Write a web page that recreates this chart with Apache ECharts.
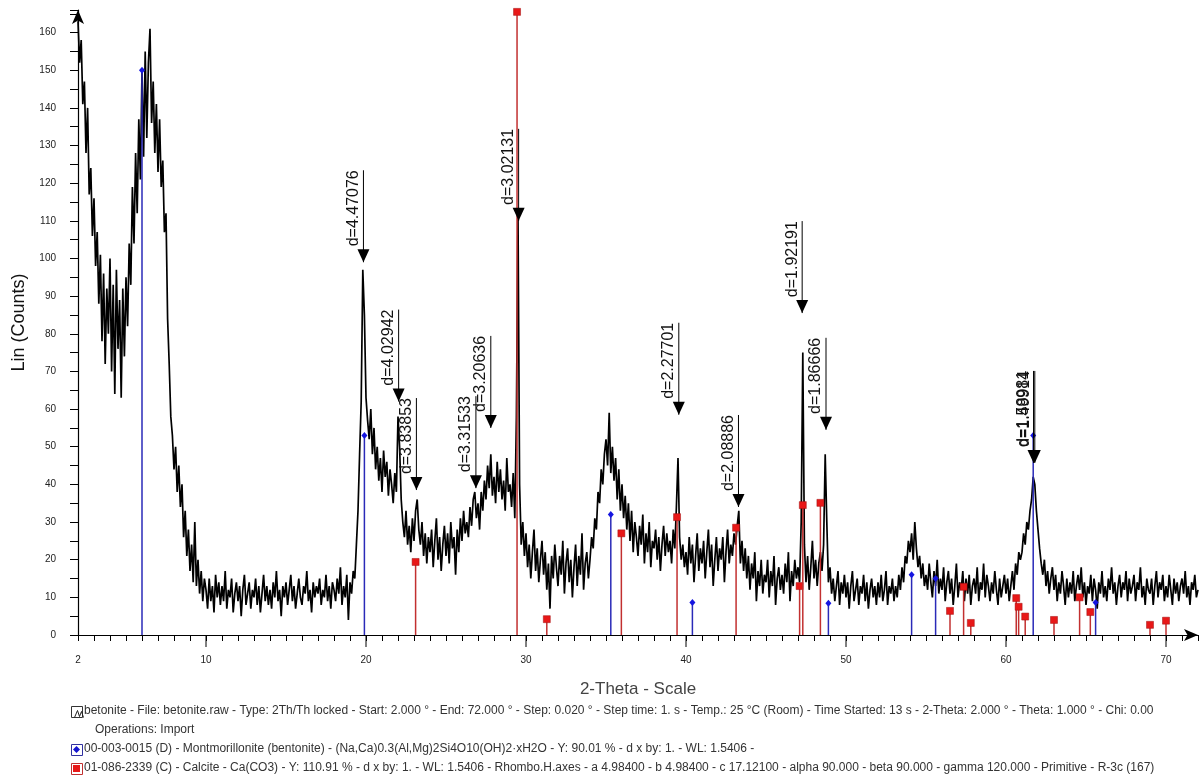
<!DOCTYPE html>
<html><head><meta charset="utf-8">
<script src="https://cdn.jsdelivr.net/npm/echarts@6/dist/echarts.min.js"></script>
<style>html,body{margin:0;padding:0;background:#fff}#c{width:1203px;height:775px}</style>
</head><body><div id="c"></div>
<script>
// Scan grid (from the file header: Start 2.000°, Step read at 0.1° resolution)
const START = 2.0, STEP = 0.1;
// Counts, 2.0° .. 72.0°
const counts = [
163,152,158,141,147,128,140,117,124,106,
116,98,107,88,101,78,96,72,92,80,
100,70,93,64,97,76,89,63,92,74,
95,82,104,93,119,104,128,112,137,121,
150,127,155,132,152,161,136,147,128,141,
123,137,119,126,107,112,84,72,58,53,
44,50,38,45,34,40,26,33,21,28,
17,24,14,30,13,20,11,17,9,15,
12,7,15,9,13,6,16,10,14,8,
13,9,17,7,12,10,15,6,11,14,
9,13,5,12,16,8,11,14,7,12,
10,15,8,13,6,11,16,9,13,8,
12,7,14,10,17,9,12,5,13,10,
14,8,12,16,9,13,7,11,15,10,
8,13,11,17,9,12,6,14,10,13,
11,15,8,12,10,16,9,13,7,14,
12,9,15,11,18,8,13,10,16,4,
14,11,17,15,24,33,48,62,97,85,
63,57,52,60,48,55,44,50,41,47,
38,49,42,46,37,44,40,35,43,38,
58,50,36,30,26,33,24,29,22,31,
25,33,36,28,24,30,21,27,19,26,
22,28,18,25,31,20,26,17,24,29,
21,27,19,30,23,26,16,28,22,31,
25,33,27,30,26,34,29,36,38,31,
35,28,38,33,41,36,45,39,48,37,
42,35,46,38,44,36,41,33,47,38,
40,34,43,31,58,112,40,24,30,21,
27,18,24,15,22,28,17,23,14,20,
25,16,22,12,19,7,21,15,24,18,
13,21,16,25,11,19,23,14,20,10,
18,24,13,21,16,27,12,19,22,15,
20,26,23,31,28,38,35,44,40,48,
52,45,59,43,50,41,47,36,44,33,
40,31,37,28,35,25,33,22,30,26,
21,29,24,32,19,27,22,30,18,25,
23,28,20,26,17,24,29,21,27,22,
25,19,28,23,34,47,26,20,24,18,
22,16,26,19,24,14,21,27,17,23,
19,25,15,22,28,18,24,13,20,26,
17,23,20,26,14,22,28,19,24,21,
27,24,29,33,19,25,17,23,15,21,
12,19,15,22,9,17,13,20,11,16,
14,20,10,17,13,21,8,15,18,12,
16,11,19,14,22,9,17,13,20,15,
18,14,30,75,24,14,21,12,18,25,
15,20,13,19,22,17,24,48,30,14,
18,11,15,9,13,17,8,14,11,16,
10,14,7,13,17,9,12,15,8,13,
11,16,9,14,7,12,15,10,13,8,
14,10,16,9,12,17,8,13,11,15,
9,13,10,16,12,18,14,21,19,25,
22,27,20,30,23,18,21,15,19,13,
16,12,19,14,10,17,13,20,11,15,
12,18,9,14,17,11,15,8,13,19,
10,14,12,17,9,15,11,16,8,13,
15,11,18,9,14,12,19,10,16,13,
9,14,11,17,12,8,15,10,13,16,
11,15,9,13,17,12,19,16,22,20,
22,27,24,30,28,33,36,42,40,33,
28,23,19,16,20,13,17,11,15,18,
12,16,9,14,11,17,13,8,15,10,
14,11,17,9,13,16,12,18,10,14,
8,13,11,16,9,15,12,7,14,11,
17,10,13,9,15,12,18,11,14,8,
13,16,10,14,12,17,9,15,11,13,
16,9,14,12,18,10,13,8,15,12,
11,15,8,13,17,10,14,12,16,9,
13,10,16,12,8,15,11,14,9,13,
15,11,17,10,13,8,14,12,16,10,
12
];
const xLabelValues = [2,10,20,30,40,50,60,70];
const majorTicks = [10,20,30,40,50,60,70];

// Reference patterns
const montTheta  = [6.0, 19.9, 35.3, 40.4, 48.9, 54.1, 55.6, 61.7, 65.6];
const montHeight = [150, 53, 32, 8.6, 8.4, 16, 15, 53, 8.6];
const calciteTheta  = [23.1, 29.44, 31.3, 35.96, 39.44, 43.13, 47.1, 47.3, 48.4, 56.5, 57.35, 57.8, 60.64, 60.79, 61.2, 63.0, 64.6, 65.27, 69.0, 70.0];
const calciteHeight = [19.4, 165.5, 4.2, 27, 31.3, 28.5, 13, 34.5, 35.1, 6.4, 12.8, 3.2, 9.8, 7.5, 4.9, 4.0, 10, 6.1, 2.7, 3.8];

// d-spacing peak markers
const peakLabels = ['d=4.47076','d=4.02942','d=3.83853','d=3.31533','d=3.20636','d=3.02131','d=2.27701','d=2.08886','d=1.92191','d=1.86666','d=1.58981','d=1.49914'];
const peakTheta  = [19.84, 22.04, 23.15, 26.87, 27.80, 29.54, 39.55, 43.28, 47.26, 48.75, 61.72, 61.80];
const peakTip    = [99, 62, 38.5, 39, 55, 110, 58.5, 34, 85.5, 54.5, 45.7, 45.7];

const legendLines = [
  'betonite - File: betonite.raw - Type: 2Th/Th locked - Start: 2.000 \u00b0 - End: 72.000 \u00b0 - Step: 0.020 \u00b0 - Step time: 1. s - Temp.: 25 \u00b0C (Room) - Time Started: 13 s - 2-Theta: 2.000 \u00b0 - Theta: 1.000 \u00b0 - Chi: 0.00',
  'Operations: Import',
  '00-003-0015 (D) - Montmorillonite (bentonite) - (Na,Ca)0.3(Al,Mg)2Si4O10(OH)2\u00b7xH2O - Y: 90.01 % - d x by: 1. - WL: 1.5406 -',
  '01-086-2339 (C) - Calcite - Ca(CO3) - Y: 110.91 % - d x by: 1. - WL: 1.5406 - Rhombo.H.axes - a 4.98400 - b 4.98400 - c 17.12100 - alpha 90.000 - beta 90.000 - gamma 120.000 - Primitive - R-3c (167)'
];

const FONT = '"Liberation Sans", Arial, sans-serif';
const scan = counts.map((v, i) => [+(START + i * STEP).toFixed(2), v]);

function stickRender(color, markerColor, marker) {
  return function (params, api) {
    const x = api.value(0), h = api.value(1);
    const p0 = api.coord([x, 0]), p1 = api.coord([x, h]);
    const children = [{ type: 'line', shape: { x1: p0[0], y1: p0[1], x2: p1[0], y2: p1[1] }, style: { stroke: color, lineWidth: 1.5 } }];
    if (marker === 'square') {
      children.push({ type: 'rect', shape: { x: p1[0] - 3.5, y: p1[1] - 3.5, width: 7, height: 7 }, style: { fill: markerColor, stroke: '#a01010', lineWidth: 0.5 } });
    } else {
      children.push({ type: 'polygon', shape: { points: [[p1[0], p1[1] - 3.5], [p1[0] + 3, p1[1]], [p1[0], p1[1] + 3.5], [p1[0] - 3, p1[1]]] }, style: { fill: markerColor } });
    }
    return { type: 'group', children };
  };
}

const chart = echarts.init(document.getElementById('c'), null, { renderer: 'canvas' });
chart.setOption({
  animation: false,
  backgroundColor: '#fff',
  grid: { left: 78, right: 5, top: 10, bottom: 140, containLabel: false },
  xAxis: {
    type: 'value', min: 2, max: 72, interval: 1,
    name: '2-Theta - Scale', nameLocation: 'middle', nameGap: 46,
    nameTextStyle: { fontFamily: FONT, fontSize: 17, color: '#444' },
    axisLine: { lineStyle: { color: '#000', width: 1.2 }, symbol: ['none', 'arrow'], symbolSize: [9, 14], symbolOffset: [0, 0] },
    axisTick: { length: 6, lineStyle: { color: '#000' } },
    axisLabel: { margin: 20, fontFamily: FONT, fontSize: 10, color: '#222',
      formatter: v => (xLabelValues.indexOf(v) >= 0 ? String(v) : '') },
    splitLine: { show: false }
  },
  yAxis: {
    type: 'value', min: 0, max: 166, interval: 5,
    name: 'Lin (Counts)', nameLocation: 'middle', nameGap: 46, nameRotate: 90,
    nameTextStyle: { fontFamily: FONT, fontSize: 18, color: '#111' },
    axisLine: { lineStyle: { color: '#000', width: 1.2 }, symbol: ['none', 'arrow'], symbolSize: [9, 14] },
    axisTick: { length: 8, lineStyle: { color: '#000' } },
    axisLabel: { margin: 22, fontFamily: FONT, fontSize: 10, color: '#222',
      formatter: v => (v % 10 === 0 ? String(v) : '') },
    splitLine: { show: false }
  },
  series: [
    { type: 'line', name: 'betonite', data: scan, showSymbol: false, symbol: 'none', sampling: 'none',
      lineStyle: { color: '#000', width: 1.7 }, z: 2, silent: true },
    { type: 'custom', name: 'Montmorillonite', data: montTheta.map((t, i) => [t, montHeight[i]]),
      renderItem: stickRender('#2a2ab8', '#1515e0', 'diamond'), z: 3, silent: true },
    { type: 'custom', name: 'Calcite', data: calciteTheta.map((t, i) => [t, calciteHeight[i]]),
      renderItem: stickRender('#c23030', '#e81818', 'square'), z: 3, silent: true },
    { type: 'custom', name: 'd-spacing', data: peakTheta.map((t, i) => [t, peakTip[i]]), z: 4, silent: true,
      renderItem: function (params, api) {
        const tip = api.coord([api.value(0), api.value(1)]);
        const top = tip[1] - 92;
        return { type: 'group', children: [
          { type: 'line', shape: { x1: tip[0], y1: top, x2: tip[0], y2: tip[1] }, style: { stroke: '#000', lineWidth: 1 } },
          { type: 'polygon', shape: { points: [[tip[0] - 6, tip[1] - 13], [tip[0] + 6, tip[1] - 13], [tip[0], tip[1]]] }, style: { fill: '#000' } },
          { type: 'text', x: tip[0] - 2, y: top, rotation: Math.PI / 2,
            style: { text: peakLabels[params.dataIndex], font: '16px "Liberation Sans Narrow", "Liberation Sans", Arial', fill: '#111', align: 'right', verticalAlign: 'bottom' } }
        ] };
      } },
    { type: 'custom', name: 'major ticks', data: majorTicks.map(v => [v, 0]), z: 4, silent: true,
      renderItem: function (params, api) {
        const p = api.coord([api.value(0), 0]);
        return { type: 'line', shape: { x1: p[0], y1: p[1], x2: p[0], y2: p[1] + 12 }, style: { stroke: '#000', lineWidth: 1 } };
      } }
  ],
  graphic: [
    // legend icons
    { type: 'rect', left: 71, top: 706, shape: { width: 11, height: 11 }, style: { fill: '#fff', stroke: '#333', lineWidth: 1 } },
    { type: 'polyline', left: 72, top: 708, shape: { points: [[0, 8], [3, 1], [5, 7], [7, 2], [9, 8]] }, style: { stroke: '#222', fill: 'none', lineWidth: 1 } },
    { type: 'rect', left: 71, top: 744, shape: { width: 11, height: 11 }, style: { fill: '#fff', stroke: '#3030a0', lineWidth: 1 } },
    { type: 'polygon', left: 73, top: 746, shape: { points: [[3.5, 0], [7, 3.5], [3.5, 7], [0, 3.5]] }, style: { fill: '#1515d0' } },
    { type: 'rect', left: 71, top: 763, shape: { width: 11, height: 11 }, style: { fill: '#fff', stroke: '#c03030', lineWidth: 1 } },
    { type: 'rect', left: 73, top: 765, shape: { width: 7, height: 7 }, style: { fill: '#e81818' } },
    // legend texts
    { type: 'text', left: 84, top: 705, style: { text: legendLines[0], font: '12px ' + FONT, fill: '#333' } },
    { type: 'text', left: 95, top: 724, style: { text: legendLines[1], font: '12px ' + FONT, fill: '#333' } },
    { type: 'text', left: 84, top: 743, style: { text: legendLines[2], font: '12px ' + FONT, fill: '#333' } },
    { type: 'text', left: 84, top: 762, style: { text: legendLines[3], font: '12px ' + FONT, fill: '#333' } }
  ]
});
</script>
</body></html>
